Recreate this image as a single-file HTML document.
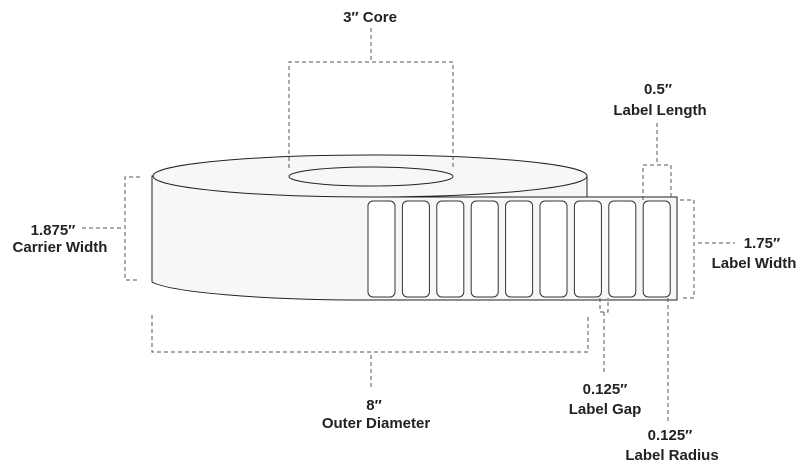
<!DOCTYPE html>
<html><head><meta charset="utf-8"><style>
html,body{margin:0;padding:0;background:#fff;}
svg{display:block;}
text{font-family:"Liberation Sans",sans-serif;font-weight:bold;font-size:15px;fill:#222;text-anchor:middle;}
.d{fill:none;stroke:#555;stroke-width:1;stroke-dasharray:4,3;}
</style></head><body>
<svg width="808" height="471" viewBox="0 0 808 471" xmlns="http://www.w3.org/2000/svg">
<path d="M152,176 L152,282 C170,292 260,300 365,300 L587,300 L587,176 Z" fill="#f7f7f7" stroke="#222" stroke-width="1"/>
<ellipse cx="370" cy="176" rx="217" ry="21" fill="#f7f7f7" stroke="#222" stroke-width="1"/>
<ellipse cx="371" cy="176.5" rx="82" ry="9.5" fill="#f7f7f7" stroke="#222" stroke-width="1"/>
<rect x="364" y="197" width="313" height="103" fill="#f7f7f7" stroke="none"/>
<path d="M364,197 L677,197 L677,300 L364,300" fill="none" stroke="#222" stroke-width="1"/>
<g fill="#fff" stroke="#333" stroke-width="1">
<rect x="368" y="201" width="27" height="96" rx="5"/>
<rect x="402.4" y="201" width="27" height="96" rx="5"/>
<rect x="436.8" y="201" width="27" height="96" rx="5"/>
<rect x="471.2" y="201" width="27" height="96" rx="5"/>
<rect x="505.6" y="201" width="27" height="96" rx="5"/>
<rect x="540" y="201" width="27" height="96" rx="5"/>
<rect x="574.4" y="201" width="27" height="96" rx="5"/>
<rect x="608.8" y="201" width="27" height="96" rx="5"/>
<rect x="643.2" y="201" width="27" height="96" rx="5"/>
</g>
<path class="d" d="M371,28 L371,62 M289,168 L289,62 L453,62 L453,168"/>
<path class="d" d="M140,177 L125,177 L125,280 L140,280 M82,228 L122,228"/>
<path class="d" d="M680,200 L694,200 L694,298 L680,298 M698,243 L735,243"/>
<path class="d" d="M657,123 L657,165 M643,200 L643,165 L671,165 L671,200"/>
<path class="d" d="M600,298 L600,312 L608,312 L608,298 M604,312 L604,372"/>
<path class="d" d="M668,298 L668,422"/>
<path class="d" d="M152,315 L152,352 L588,352 L588,315 M371,355 L371,390"/>
<text x="370" y="22">3″ Core</text>
<text x="658" y="94">0.5″</text>
<text x="660" y="115">Label Length</text>
<text x="53" y="235">1.875″</text>
<text x="60" y="252">Carrier Width</text>
<text x="762" y="248">1.75″</text>
<text x="754" y="268">Label Width</text>
<text x="374" y="410">8″</text>
<text x="376" y="428">Outer Diameter</text>
<text x="605" y="394">0.125″</text>
<text x="605" y="414">Label Gap</text>
<text x="670" y="440">0.125″</text>
<text x="672" y="460">Label Radius</text>
</svg>
</body></html>
